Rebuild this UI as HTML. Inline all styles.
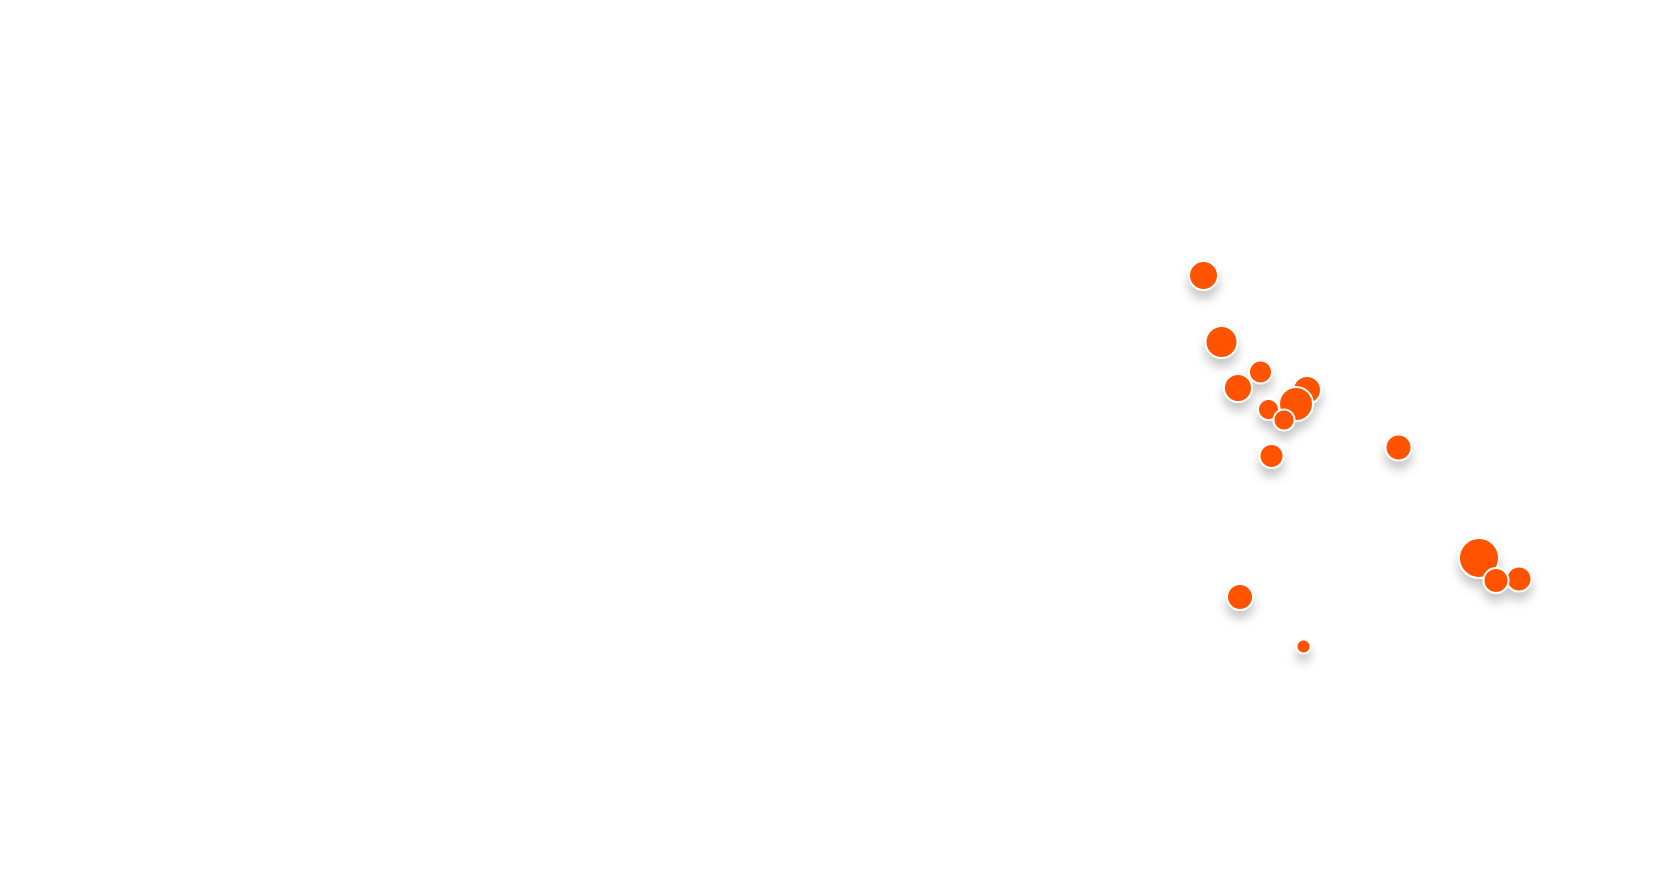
<!DOCTYPE html>
<html><head><meta charset="utf-8"><style>
html,body{margin:0;padding:0;background:#fff;width:1680px;height:895px;overflow:hidden}
svg{display:block}
</style></head><body>
<svg width="1680" height="895" viewBox="0 0 1680 895" xmlns="http://www.w3.org/2000/svg">
<defs>
<filter id="sh" x="-100%" y="-100%" width="300%" height="300%">
<feDropShadow dx="0" dy="8" stdDeviation="5" flood-color="#000" flood-opacity="0.22"/>
</filter>
</defs>
<g fill="#FF5200" stroke="#fff" stroke-width="2" filter="url(#sh)">
<circle cx="1203.5" cy="275.5" r="14.5"/>
<circle cx="1221.5" cy="342" r="16"/>
<circle cx="1238" cy="388" r="14"/>
<circle cx="1260.5" cy="372" r="11.5"/>
<circle cx="1307" cy="390" r="14"/>
<circle cx="1268.5" cy="409.5" r="10.5"/>
<circle cx="1296" cy="404" r="17"/>
<circle cx="1284" cy="420" r="10.5"/>
<circle cx="1271.5" cy="456" r="12"/>
<circle cx="1398.5" cy="447.5" r="13"/>
<circle cx="1479" cy="558" r="20"/>
<circle cx="1519" cy="579" r="12.5"/>
<circle cx="1496" cy="580.5" r="12.5"/>
<circle cx="1240" cy="597" r="13"/>
<circle cx="1303.5" cy="646.5" r="7"/>
</g>
</svg>
</body></html>
